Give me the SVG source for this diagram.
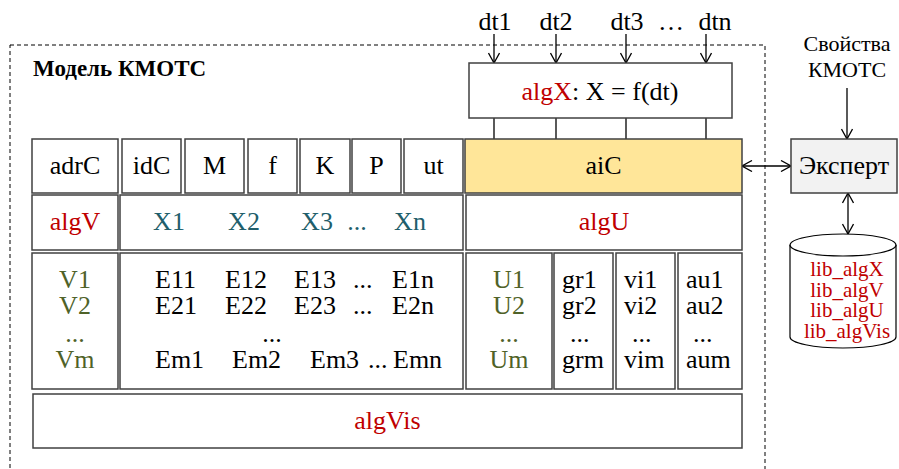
<svg xmlns="http://www.w3.org/2000/svg" width="899" height="469" viewBox="0 0 899 469" font-family="'Liberation Serif', serif">
<defs>
<marker id="ah" viewBox="0 0 12 12" refX="11" refY="6" markerWidth="12" markerHeight="12" markerUnits="userSpaceOnUse" orient="auto-start-reverse">
<path d="M1,0.5 L11,6 L1,11.5" fill="none" stroke="#000" stroke-width="1.3"/>
</marker>
</defs>
<style>
text{font-family:'Liberation Serif',serif;font-size:26px;fill:#000}
.c{text-anchor:middle}
.r{fill:#C00000}
.t{fill:#215E6B}
.o{fill:#4F6228}
.box{fill:#fff;stroke:#404040;stroke-width:1.5}
.ln{stroke:#000;stroke-width:1.3;fill:none}
.lib{font-size:21px;fill:#C00000;text-anchor:middle}
.ttl{font-weight:bold;font-size:23px}
.sm{font-size:22px}
</style>
<rect x="10" y="45" width="755" height="440" fill="none" stroke="#000" stroke-width="1" stroke-dasharray="4,3"/>
<text class="ttl" x="33" y="76">Модель КМОТС</text>

<g id="connectors">
<line class="ln" x1="494" y1="34" x2="494" y2="63" marker-end="url(#ah)"/>
<line class="ln" x1="556" y1="34" x2="556" y2="63" marker-end="url(#ah)"/>
<line class="ln" x1="626" y1="34" x2="626" y2="63" marker-end="url(#ah)"/>
<line class="ln" x1="706" y1="34" x2="706" y2="63" marker-end="url(#ah)"/>
<line class="ln" x1="494" y1="118" x2="494" y2="139"/>
<line class="ln" x1="556" y1="118" x2="556" y2="139"/>
<line class="ln" x1="626" y1="118" x2="626" y2="139"/>
<line class="ln" x1="706" y1="118" x2="706" y2="139"/>
<line class="ln" x1="847" y1="88" x2="847" y2="139" marker-end="url(#ah)"/>
<line class="ln" x1="742" y1="166" x2="791" y2="166" marker-start="url(#ah)" marker-end="url(#ah)"/>
<line class="ln" x1="848" y1="193" x2="848" y2="234" marker-start="url(#ah)" marker-end="url(#ah)"/>
</g>

<g id="dt-labels">
<text class="c" x="495" y="30">dt1</text>
<text class="c" x="556" y="30">dt2</text>
<text class="c" x="627" y="30">dt3</text>
<text class="c" x="671" y="30">…</text>
<text class="c" x="715" y="30">dtn</text>
</g>

<g id="props">
<text class="c sm" x="847" y="51">Свойства</text>
<text class="c sm" x="847" y="77">КМОТС</text>
</g>

<g id="algX">
<rect class="box" x="469" y="63" width="263" height="55"/>
<text class="c" x="600" y="100"><tspan class="r">algX</tspan>: X = f(dt)</text>
</g>

<g id="adrC"><rect class="box" x="32" y="139" width="86" height="54"/><text class="c" x="75" y="174">adrC</text></g>
<g id="idC"><rect class="box" x="122" y="139" width="59" height="54"/><text class="c" x="151.5" y="174">idC</text></g>
<g id="M"><rect class="box" x="185" y="139" width="59" height="54"/><text class="c" x="214.5" y="174">M</text></g>
<g id="f"><rect class="box" x="248" y="139" width="49" height="54"/><text class="c" x="272.5" y="174">f</text></g>
<g id="K"><rect class="box" x="300" y="139" width="50" height="54"/><text class="c" x="325" y="174">K</text></g>
<g id="P"><rect class="box" x="352" y="139" width="49" height="54"/><text class="c" x="376.5" y="174">P</text></g>
<g id="ut"><rect class="box" x="404" y="139" width="59" height="54"/><text class="c" x="433.5" y="174">ut</text></g>
<g id="aiC"><rect class="box" x="465" y="139" width="277" height="54" style="fill:#FFE699"/><text class="c" x="603.5" y="174">aiC</text></g>
<g id="expert"><rect class="box" x="791" y="139" width="106" height="54" style="fill:#F2F2F2"/><text class="c" x="844" y="174">Эксперт</text></g>

<g id="algV"><rect class="box" x="32" y="195" width="86" height="55"/><text class="c r" x="75" y="230">algV</text></g>
<g id="Xrow"><rect class="box" x="120" y="195" width="343" height="55"/>
<text class="c t" x="169" y="230">X1</text>
<text class="c t" x="244" y="230">X2</text>
<text class="c t" x="317" y="230">X3</text>
<text class="c t" x="357" y="230">...</text>
<text class="c t" x="410" y="230">Xn</text>
</g>
<g id="algU"><rect class="box" x="466" y="195" width="276" height="55"/><text class="c r" x="604" y="230">algU</text></g>

<g id="Vcol"><rect class="box" x="32" y="253" width="86" height="136"/>
<text class="c o" x="75" y="288">V1</text>
<text class="c o" x="75" y="314">V2</text>
<text class="c o" x="75" y="342">...</text>
<text class="c o" x="75" y="368">Vm</text>
</g>
<g id="Ematrix"><rect class="box" x="120" y="253" width="343" height="136"/>
<text x="155" y="288">E11</text><text x="225" y="288">E12</text><text x="294" y="288">E13</text><text x="353" y="288">...</text><text x="392" y="288">E1n</text>
<text x="155" y="314">E21</text><text x="225" y="314">E22</text><text x="294" y="314">E23</text><text x="353" y="314">...</text><text x="392" y="314">E2n</text>
<text class="c" x="272" y="342">...</text>
<text x="155" y="368">Em1</text><text x="232" y="368">Em2</text><text x="310" y="368">Em3</text><text x="368" y="368">...</text><text x="393" y="368">Emn</text>
</g>
<g id="Ucol"><rect class="box" x="466" y="253" width="86" height="136"/>
<text class="c o" x="509" y="288">U1</text>
<text class="c o" x="509" y="314">U2</text>
<text class="c o" x="509" y="342">...</text>
<text class="c o" x="509" y="368">Um</text>
</g>
<g id="grcol"><rect class="box" x="554" y="253" width="59" height="136"/>
<text x="562" y="288">gr1</text><text x="562" y="314">gr2</text><text x="570" y="342">...</text><text x="562" y="368">grm</text>
</g>
<g id="vicol"><rect class="box" x="616" y="253" width="59" height="136"/>
<text x="624" y="288">vi1</text><text x="624" y="314">vi2</text><text x="632" y="342">...</text><text x="624" y="368">vim</text>
</g>
<g id="aucol"><rect class="box" x="678" y="253" width="64" height="136"/>
<text x="686" y="288">au1</text><text x="686" y="314">au2</text><text x="693" y="342">...</text><text x="686" y="368">aum</text>
</g>
<g id="algVis"><rect class="box" x="33" y="394" width="709" height="54"/><text class="c r" x="387.5" y="429">algVis</text></g>

<g id="library">
<path d="M790,245 L790,337 A53,11 0 0 0 896,337 L896,245" fill="#fff" stroke="#000" stroke-width="1.2"/>
<ellipse cx="843" cy="245" rx="53" ry="11" fill="#fff" stroke="#000" stroke-width="1.2"/>
<text class="lib" x="847" y="276">lib_algX</text>
<text class="lib" x="847" y="296.5">lib_algV</text>
<text class="lib" x="847" y="317">lib_algU</text>
<text class="lib" x="847" y="337.5">lib_algVis</text>
</g>
</svg>
